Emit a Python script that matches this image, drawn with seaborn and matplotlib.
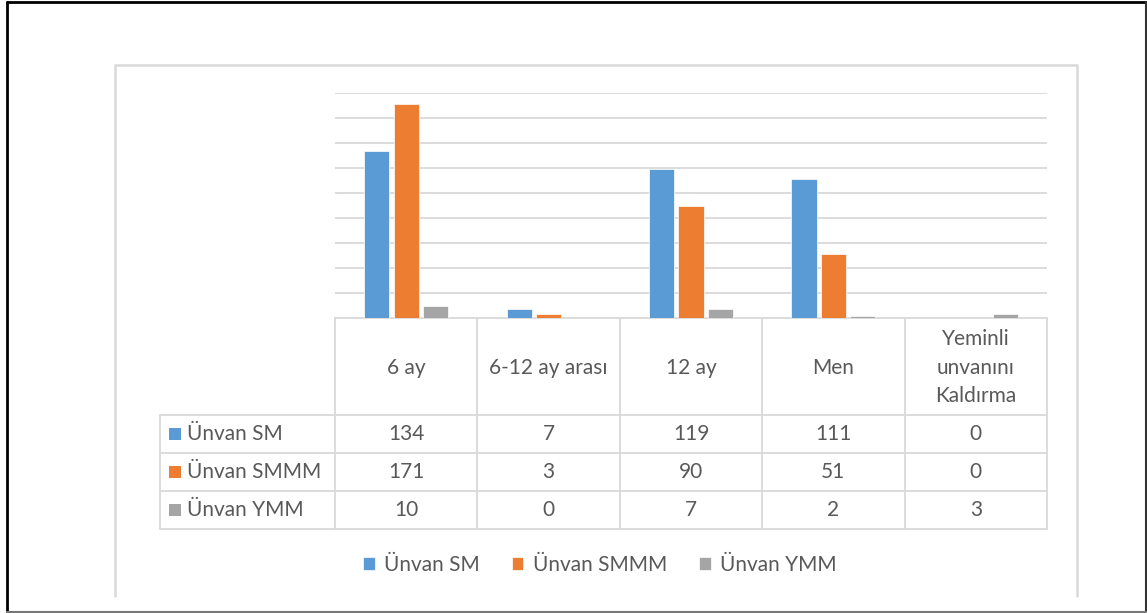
import matplotlib
matplotlib.use("Agg")
import matplotlib.pyplot as plt
from matplotlib.patches import Rectangle
import pandas as pd
import seaborn as sns

# === Data ===
categories = ["6 ay", "6-12 ay arası", "12 ay", "Men", "Yeminli\nunvanını\nKaldırma"]
series_names = ["Ünvan SM", "Ünvan SMMM", "Ünvan YMM"]
sm_values = [134, 7, 119, 111, 0]
smmm_values = [171, 3, 90, 51, 0]
ymm_values = [10, 0, 7, 2, 3]
colors = ["#5B9BD5", "#ED7D31", "#A5A5A5"]
text_color = "#595959"
grid_color = "#d9d9d9"

all_values = [sm_values, smmm_values, ymm_values]
df = pd.DataFrame({
    "kategori": categories * 3,
    "seri": [s for s in series_names for _ in categories],
    "deger": sm_values + smmm_values + ymm_values,
})

W, H = 1147, 613
sns.set_theme(style="white")
plt.rcParams["font.family"] = ["Lato", "DejaVu Sans"]

fig = plt.figure(figsize=(W / 100, H / 100), dpi=100)

# pixel-based background axes for frames and data table
bg = fig.add_axes([0, 0, 1, 1])
bg.set_xlim(0, W)
bg.set_ylim(H, 0)
bg.axis("off")

# === Bar area ===
plot_l, plot_r, plot_t, plot_b = 335, 1047, 93, 318
ax = fig.add_axes([plot_l / W, 1 - plot_b / H, (plot_r - plot_l) / W, (plot_b - plot_t) / H])
sns.barplot(data=df, x="kategori", y="deger", hue="seri", hue_order=series_names,
            palette=colors, width=0.62, gap=0.14, saturation=1,
            edgecolor="white", linewidth=0.5, ax=ax)
ax.set_xlim(-0.5, len(categories) - 0.5)
ax.set_ylim(0, 180)
ax.set_yticks(range(20, 181, 20))
ax.grid(axis="y", color=grid_color, lw=1.3)
ax.set_axisbelow(True)
ax.tick_params(left=False, bottom=False, labelleft=False, labelbottom=False)
for sp in ax.spines.values():
    sp.set_visible(False)
ax.set_xlabel("")
ax.set_ylabel("")
ax.patch.set_alpha(0)

sns.move_legend(ax, "center", bbox_to_anchor=(600 / W, 1 - 565 / H),
                bbox_transform=fig.transFigure, ncol=3, frameon=False, title=None,
                fontsize=15, labelcolor=text_color, handlelength=0.55, handleheight=0.55,
                handletextpad=0.45, columnspacing=1.55)

# === Frames ===
bg.plot([6.5, 6.5], [2, 611], color="black", lw=2)
bg.plot([6.5, 1146], [2, 2], color="black", lw=2)
bg.plot([1145.5, 1145.5], [2, 611], color="#333333", lw=1.5)
bg.plot([6.5, 1146], [611.5, 611.5], color="#777777", lw=1.5)
bg.plot([115, 115, 1076.5, 1076.5], [596, 64.5, 64.5, 596], color="#d9d9d9", lw=1.8)

# === Data table ===
n = len(categories)
col_edges = [plot_l + i * (plot_r - plot_l) / n for i in range(n + 1)]
hdr_bot = 415
row_edges = [415, 453, 491, 529]
label_l = 160
lc = dict(color=grid_color, lw=1.3)

bg.plot([plot_l, plot_r], [plot_b, plot_b], **lc)
for y in row_edges:
    bg.plot([label_l, plot_r], [y, y], **lc)
for x in col_edges:
    bg.plot([x, x], [plot_b, row_edges[-1]], **lc)
bg.plot([label_l, label_l], [hdr_bot, row_edges[-1]], **lc)

for i, cat in enumerate(categories):
    cx = (col_edges[i] + col_edges[i + 1]) / 2
    bg.text(cx, (plot_b + hdr_bot) / 2 + 1, cat, ha="center", va="center",
            fontsize=15, color=text_color, linespacing=1.55)

for r, (name, vals) in enumerate(zip(series_names, all_values)):
    cy = (row_edges[r] + row_edges[r + 1]) / 2
    bg.add_patch(Rectangle((169, cy - 6), 12, 12, color=colors[r], lw=0))
    bg.text(187, cy, name, ha="left", va="center", fontsize=15, color=text_color)
    for i, v in enumerate(vals):
        cx = (col_edges[i] + col_edges[i + 1]) / 2
        bg.text(cx, cy, str(v), ha="center", va="center", fontsize=15, color=text_color)

fig.savefig("out.png", dpi=100)
